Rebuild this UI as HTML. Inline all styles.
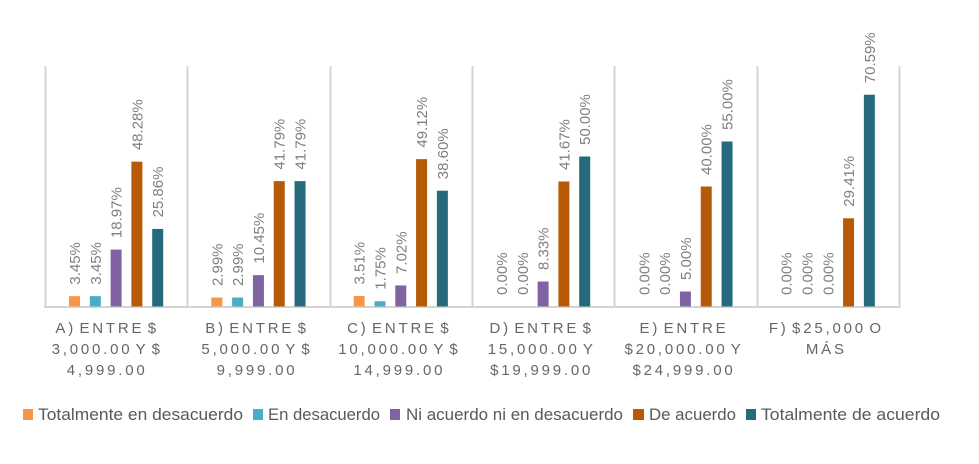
<!DOCTYPE html>
<html lang="es">
<head>
<meta charset="utf-8">
<title>Gráfico de barras por rango de ingreso</title>
<style>
html,body{margin:0;padding:0;background:#fff;width:979px;height:464px;overflow:hidden}
svg{display:block;font-family:"Liberation Sans",sans-serif}
.value{font-size:15px;fill:#7f7f7f}
.cat{font-size:15px;letter-spacing:2.8px;word-spacing:-3.5px;fill:#666;text-anchor:middle}
.leg{font-size:17px;fill:#595959}
</style>
</head>
<body>
<svg id="chart" width="979" height="464" viewBox="0 0 979 464" xmlns="http://www.w3.org/2000/svg">
  <g id="grid"></g>
  <g id="bars"></g>
  <g id="values"></g>
  <g id="cats"></g>
  <g>
    <g><rect x="23" y="409" width="10" height="11" fill="#F79646"/><text class="leg" x="38" y="420" textLength="205" lengthAdjust="spacingAndGlyphs">Totalmente en desacuerdo</text></g>
    <g><rect x="253" y="409" width="10" height="11" fill="#4BACC6"/><text class="leg" x="268" y="420" textLength="112" lengthAdjust="spacingAndGlyphs">En desacuerdo</text></g>
    <g><rect x="390" y="409" width="10" height="11" fill="#8064A2"/><text class="leg" x="406" y="420" textLength="217" lengthAdjust="spacingAndGlyphs">Ni acuerdo ni en desacuerdo</text></g>
    <g><rect x="633" y="409" width="11" height="11" fill="#B65A07"/><text class="leg" x="649" y="420" textLength="87" lengthAdjust="spacingAndGlyphs">De acuerdo</text></g>
    <g><rect x="746" y="409" width="10" height="11" fill="#266B7D"/><text class="leg" x="761" y="420" textLength="179" lengthAdjust="spacingAndGlyphs">Totalmente de acuerdo</text></g>
  </g>
</svg>
<script>
const categoryLines = [
  ["A) ENTRE $", "3,000.00 Y $", "4,999.00"],
  ["B) ENTRE $", "5,000.00 Y $", "9,999.00"],
  ["C) ENTRE $", "10,000.00 Y $", "14,999.00"],
  ["D) ENTRE $", "15,000.00 Y", "$19,999.00"],
  ["E) ENTRE", "$20,000.00 Y", "$24,999.00"],
  ["F) $25,000 O", "MÁS"]
];
const totalmenteEnDesacuerdo = [3.45, 2.99, 3.51, 0, 0, 0];
const enDesacuerdo = [3.45, 2.99, 1.75, 0, 0, 0];
const niAcuerdo = [18.97, 10.45, 7.02, 8.33, 5.00, 0];
const deAcuerdo = [48.28, 41.79, 49.12, 41.67, 40.00, 29.41];
const totalmenteDeAcuerdo = [25.86, 41.79, 38.60, 50.00, 55.00, 70.59];

const seriesValues = [totalmenteEnDesacuerdo, enDesacuerdo, niAcuerdo, deAcuerdo, totalmenteDeAcuerdo];
const seriesColors = ["#F79646", "#4BACC6", "#8064A2", "#B65A07", "#266B7D"];

const NS = "http://www.w3.org/2000/svg";
const plotLeft = 45, plotRight = 899, plotTop = 66, baseline = 306.5, pxPerPercent = 3.0;
const bandWidth = (plotRight - plotLeft) / categoryLines.length;
const barWidth = 11, barStep = 20.8, groupInset = 24;

function yScale(v) { return baseline - v * pxPerPercent; }
function xBand(i) { return plotLeft + i * bandWidth; }
function xBar(i, s) { return xBand(i) + groupInset + s * barStep; }

const grid = document.getElementById("grid");
for (let i = 0; i <= categoryLines.length; i++) {
  const line = document.createElementNS(NS, "line");
  
  
  const x = Math.round(xBand(i)) + 0.5;
  line.setAttribute("x1", x);
  line.setAttribute("x2", x);
  line.setAttribute("y1", plotTop);
  line.setAttribute("y2", 308);
  line.setAttribute("stroke", "#d4d4d4");
  line.setAttribute("stroke-width", "2");
  grid.appendChild(line);
}
const axis = document.createElementNS(NS, "line");


axis.setAttribute("x1", plotLeft - 1);
axis.setAttribute("x2", plotRight + 1);
axis.setAttribute("y1", 307);
axis.setAttribute("y2", 307);
axis.setAttribute("stroke", "#d4d4d4");
axis.setAttribute("stroke-width", "2");
grid.appendChild(axis);

const bars = document.getElementById("bars");
const values = document.getElementById("values");
seriesValues.forEach(function (series, s) {
  series.forEach(function (v, i) {
    const bar = document.createElementNS(NS, "rect");
    
    
    bar.setAttribute("x", xBar(i, s));
    bar.setAttribute("y", yScale(v));
    bar.setAttribute("width", barWidth);
    bar.setAttribute("height", baseline - yScale(v));
    bar.setAttribute("fill", seriesColors[s]);
    bars.appendChild(bar);

    const label = document.createElementNS(NS, "text");
    
    
    label.setAttribute("class", "value");
    const lx = xBar(i, s) + barWidth / 2 + 5.5;
    const ly = yScale(v) - 11.5;
    label.setAttribute("transform", "translate(" + lx + "," + ly + ") rotate(-90)");
    label.textContent = v.toFixed(2) + "%";
    values.appendChild(label);
  });
});

const cats = document.getElementById("cats");
categoryLines.forEach(function (lines, i) {
  const shift = i === 0 ? -9 : -1.5;
  const cx = xBand(i) + bandWidth / 2 + shift;
  lines.forEach(function (t, n) {
    const el = document.createElementNS(NS, "text");
    
    
    el.setAttribute("class", "cat");
    el.setAttribute("x", cx);
    el.setAttribute("y", 333 + n * 21);
    el.textContent = t;
    cats.appendChild(el);
  });
});
</script>
</body>
</html>
